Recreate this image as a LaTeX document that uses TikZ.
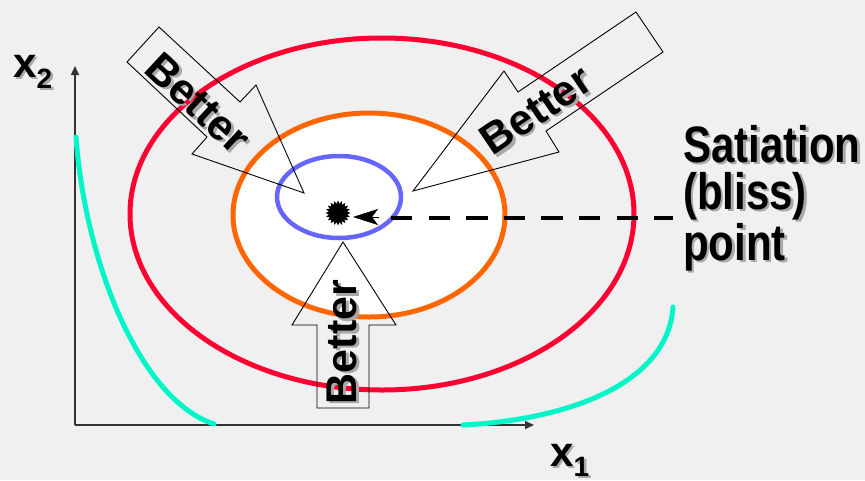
\documentclass[tikz,border=0pt]{standalone}
\usepackage{fontspec}
\setmainfont{Liberation Sans}
\usetikzlibrary{arrows.meta,shapes.geometric}
\definecolor{bg}{HTML}{F0F0F0}
\definecolor{cred}{HTML}{FF0033}
\definecolor{corange}{HTML}{FF6600}
\definecolor{cblue}{HTML}{6666FF}
\definecolor{ccyan}{HTML}{00F5C8}
\definecolor{axisc}{HTML}{333333}
\definecolor{shad}{HTML}{A8A8A8}
\begin{document}
\begin{tikzpicture}[x=1pt,y=-1pt,
  blockarrow/.style={draw=black, line width=0.9pt, line join=miter},
  curvecyan/.style={draw=ccyan, line width=5pt, line cap=round},
  axisline/.style={draw=axisc, line width=1.5pt, -{Triangle[length=9pt,width=8pt]}},
  bettertxt/.style={font=\bfseries\fontsize{43}{43}\selectfont, inner sep=0pt},
  labeltxt/.style={font=\bfseries\fontsize{42}{42}\selectfont, inner sep=0pt, anchor=base west},
  tall/.style={yscale=1.22},
  shadowtxt/.style={text=shad},
]
\fill[bg] (0,0) rectangle (865,480);
\useasboundingbox (0,0) rectangle (865,480);

% ellipses
\draw[cred, line width=5pt] (382,214) ellipse [x radius=252, y radius=176];
\filldraw[fill=white, draw=corange, line width=5pt] (369,215) ellipse [x radius=136, y radius=102];
\draw[cblue, line width=4.5pt] (339,197) ellipse [x radius=62, y radius=41];

% axes
\coordinate (O) at (75,425);
\coordinate (yend) at (75,66);
\coordinate (xend) at (534,425);
\draw[axisline] (O) -- (yend);
\draw[axisline] (O) -- (xend);

% indifference curves (cyan)
\coordinate (c1s) at (76,137);
\coordinate (c1e) at (214,424);
\coordinate (c2s) at (463,425);
\coordinate (c2e) at (673,307);
\draw[curvecyan] (c1s) .. controls (85,262) and (140,400) .. (c1e);
\draw[curvecyan] (c2s) .. controls (565,420) and (668,385) .. (c2e);

% block arrows
\draw[blockarrow] (127,62) -- (159,27) -- (240,102) -- (256,85) -- (304,193) -- (192,154) -- (207,137) -- cycle;
\draw[blockarrow] (636,12) -- (518,92) -- (504,71) -- (413,191) -- (559,152) -- (546,131) -- (663,52) -- cycle;
\draw[blockarrow] (343,242) -- (396,325) -- (369,325) -- (369,408) -- (317,408) -- (317,325) -- (292,325) -- cycle;

% Better texts
\node[bettertxt, shadowtxt, rotate=-43] (b1s) at (200.5,105.5) {Better};
\node[bettertxt, rotate=-43] (b1) at (198,103) {Better};
\node[bettertxt, shadowtxt, rotate=34] (b2s) at (538.5,112.5) {Better};
\node[bettertxt, rotate=34] (b2) at (536,110) {Better};
\node[bettertxt, shadowtxt, rotate=90] (b3s) at (344.5,344.5) {Better};
\node[bettertxt, rotate=90] (b3) at (342,342) {Better};

% bliss point
\node[star, star points=20, star point ratio=1.35, fill=black, minimum size=25pt, inner sep=0pt] (bliss) at (338,213) {};
\coordinate (ahB) at (379,217);
\coordinate (ahT) at (353,217);
\draw[line width=0.5pt, -{Stealth[length=25pt,width=16pt,inset=6pt]}] (ahB) -- (ahT);
\coordinate (dsW) at (391,218);
\coordinate (dsE) at (673,218);
\draw[line width=4pt, dash pattern=on 21.3pt off 16.3pt] (dsW) -- (dsE);

% labels
\node[labeltxt, tall, shadowtxt] (s1s) at (685.5,164.5) {Satiation};
\node[labeltxt, tall] (s1) at (683,162) {Satiation};
\node[labeltxt, tall, shadowtxt] (s2s) at (685.5,211.5) {(bliss)};
\node[labeltxt, tall] (s2) at (683,209) {(bliss)};
\node[labeltxt, tall, shadowtxt] (s3s) at (685.5,262.5) {point};
\node[labeltxt, tall] (s3) at (683,260) {point};

\node[labeltxt, shadowtxt] (x2s) at (15.5,79.5) {x\raisebox{-11pt}{\fontsize{28}{28}\selectfont 2}};
\node[labeltxt] (x2) at (13,77) {x\raisebox{-11pt}{\fontsize{28}{28}\selectfont 2}};
\node[labeltxt, shadowtxt] (x1s) at (552.5,468.5) {x\raisebox{-10pt}{\fontsize{28}{28}\selectfont 1}};
\node[labeltxt] (x1) at (550,466) {x\raisebox{-10pt}{\fontsize{28}{28}\selectfont 1}};
\end{tikzpicture}
\end{document}
